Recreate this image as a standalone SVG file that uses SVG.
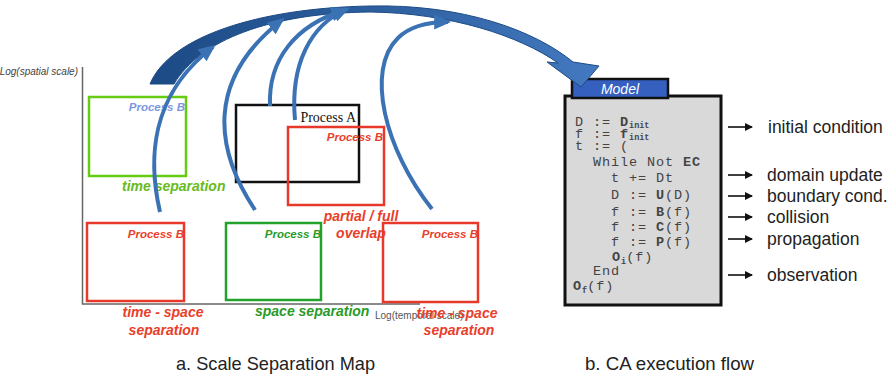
<svg xmlns="http://www.w3.org/2000/svg" width="894" height="378" viewBox="0 0 894 378">
<defs>
<linearGradient id="bigGrad" x1="150" y1="0" x2="598" y2="0" gradientUnits="userSpaceOnUse">
<stop offset="0" stop-color="#1c4a85"/>
<stop offset="0.5" stop-color="#2d5f9e"/>
<stop offset="1" stop-color="#4479c0"/>
</linearGradient>
<marker id="blueHead" viewBox="0 0 16 14" refX="13" refY="7" markerWidth="17" markerHeight="15" markerUnits="userSpaceOnUse" orient="auto">
<path d="M0,0 L16,7 L0,14 Z" fill="#3a72b4"/>
</marker>
<marker id="blackHead" viewBox="0 0 8 8" refX="7" refY="4" markerWidth="8" markerHeight="8" markerUnits="userSpaceOnUse" orient="auto">
<path d="M0,0 L8,4 L0,8 Z" fill="#111"/>
</marker>
<style>
.ax{stroke:#666;stroke-width:1.5;fill:none}
.bx{fill:none;stroke-width:2.5}
.red{stroke:#e8382a}
.lbl{font-family:"Liberation Sans",Arial,sans-serif;font-style:italic;font-weight:bold}
.pb{font-size:11.5px}
.cap{font-size:14px}
.rt{fill:#e8402a}
.code{font-family:"Liberation Mono","Courier New",monospace;font-size:13.5px;letter-spacing:0.9px;fill:#444}
.sub{font-size:8.5px;font-weight:bold;letter-spacing:0}
.b{font-weight:bold}
.desc{font-family:"Liberation Sans",Arial,sans-serif;font-size:17.5px;fill:#222}
.conn{fill:none;stroke:#3a72b4;stroke-width:4;marker-end:url(#blueHead)}
.la{stroke:#111;stroke-width:1.6;marker-end:url(#blackHead)}
.title{font-family:"Liberation Sans",Arial,sans-serif;font-size:19px;fill:#222}
</style>
</defs>
<rect width="894" height="378" fill="#fff"/>

<g id="axes">
<text x="78" y="75" text-anchor="end" font-family="Liberation Sans, Arial, sans-serif" font-style="italic" font-size="10" fill="#444">Log(spatial scale)</text>
<path class="ax" d="M82.5,67 V304 H420"/>
<text x="375" y="319" font-family="Liberation Sans, Arial, sans-serif" font-size="10" fill="#555">Log(temporal scale)</text>
</g>

<g id="procB-time">
<rect class="bx" x="89" y="97" width="97" height="79" stroke="#66cc11"/>
<text class="lbl pb" x="185" y="111" text-anchor="end" fill="#7a96e0">Process B</text>
<text class="lbl cap" x="122" y="191" fill="#66bb22">time separation</text>
</g>

<g id="procA">
<rect class="bx" x="236" y="105" width="123" height="77" stroke="#111" stroke-width="3"/>
<text x="356" y="122" text-anchor="end" font-family="Liberation Serif, Times New Roman, serif" font-size="14" fill="#111">Process A</text>
</g>

<g id="procB-overlap">
<rect class="bx red" x="288" y="127" width="96" height="78"/>
<text class="lbl pb rt" x="383" y="141" text-anchor="end">Process B</text>
<text class="lbl cap rt" x="361" y="221" text-anchor="middle">partial / full</text>
<text class="lbl cap rt" x="361" y="238" text-anchor="middle">overlap</text>
</g>

<g id="procB-ts1">
<rect class="bx red" x="87" y="223" width="97" height="78"/>
<text class="lbl pb rt" x="184" y="238" text-anchor="end">Process B</text>
<text class="lbl cap rt" x="163" y="317" text-anchor="middle">time - space</text>
<text class="lbl cap rt" x="164" y="335" text-anchor="middle">separation</text>
</g>

<g id="procB-space">
<rect class="bx" x="226" y="223" width="95" height="77" stroke="#22a22a"/>
<text class="lbl pb" x="321" y="238" text-anchor="end" fill="#2a9a2a">Process B</text>
<text class="lbl cap" x="255" y="316" fill="#2a9a2a">space separation</text>
</g>

<g id="procB-ts2">
<rect class="bx red" x="383" y="223" width="95" height="79"/>
<text class="lbl pb rt" x="478" y="238" text-anchor="end">Process B</text>
<text class="lbl cap rt" x="457" y="318" text-anchor="middle">time - space</text>
<text class="lbl cap rt" x="459" y="335" text-anchor="middle">separation</text>
</g>

<g id="model">
<rect x="565" y="96" width="156" height="209" fill="#d9d9d9" stroke="#111" stroke-width="3"/>
<rect x="572" y="79" width="96" height="19" fill="#3560c0" stroke="#111" stroke-width="2.5"/>
<text x="620" y="94" text-anchor="middle" font-family="Liberation Sans, Arial, sans-serif" font-style="italic" font-size="14" fill="#fff">Model</text>
<text class="code" x="575" y="126">D := <tspan class="b">D</tspan><tspan class="sub" dy="2">init</tspan></text>
<text class="code" x="575" y="138">f := <tspan class="b">f</tspan><tspan class="sub" dy="2">init</tspan></text>
<text class="code" x="575" y="150">t := (</text>
<text class="code" x="593" y="166">While Not <tspan class="b">EC</tspan></text>
<text class="code" x="611" y="182">t += Dt</text>
<text class="code" x="611" y="199">D := <tspan class="b">U</tspan>(D)</text>
<text class="code" x="611" y="216">f := <tspan class="b">B</tspan>(f)</text>
<text class="code" x="611" y="231">f := <tspan class="b">C</tspan>(f)</text>
<text class="code" x="611" y="246">f := <tspan class="b">P</tspan>(f)</text>
<text class="code" x="612" y="261"><tspan class="b">O</tspan><tspan class="sub" dy="3">i</tspan><tspan dy="-3">(f)</tspan></text>
<text class="code" x="593" y="275">End</text>
<text class="code" x="573" y="290"><tspan class="b">O</tspan><tspan class="sub" dy="3">f</tspan><tspan dy="-3">(f)</tspan></text>
</g>

<g id="labels">
<text class="desc" x="768" y="133">initial condition</text>
<text class="desc" x="767" y="181">domain update</text>
<text class="desc" x="767" y="202">boundary cond.</text>
<text class="desc" x="767" y="223">collision</text>
<text class="desc" x="767" y="245">propagation</text>
<text class="desc" x="767" y="281">observation</text>
</g>

<g id="connectors">
<path d="M150,84 C170,36 260,8 370,6 C462,4 534,30 573,62 L599,66 L581,87 L547,62 L558,63 C520,36 450,13 370,12 C270,13 200,40 174,84 Z" fill="url(#bigGrad)" stroke="#1c4a85" stroke-width="1"/>
<path class="conn" d="M160,212 C148,160 150,95 213,47"/>
<path class="conn" d="M255,210 C215,150 205,80 282,20"/>
<path class="conn" d="M270,106 C268,60 295,25 345,10"/>
<path class="conn" d="M295,120 C290,65 310,25 347,9"/>
<path class="conn" d="M432,209 C385,150 365,70 398,38 C410,26 428,22 448,22"/>
<line class="la" x1="728" y1="127" x2="752" y2="127"/>
<line class="la" x1="728" y1="175" x2="752" y2="175"/>
<line class="la" x1="728" y1="196" x2="752" y2="196"/>
<line class="la" x1="728" y1="217" x2="752" y2="217"/>
<line class="la" x1="728" y1="239" x2="752" y2="239"/>
<line class="la" x1="728" y1="275" x2="752" y2="275"/>
</g>

<g id="captions">
<text class="title" x="176" y="370" textLength="199" lengthAdjust="spacingAndGlyphs">a. Scale Separation Map</text>
<text class="title" x="585" y="370" textLength="169" lengthAdjust="spacingAndGlyphs">b. CA execution flow</text>
</g>
</svg>
